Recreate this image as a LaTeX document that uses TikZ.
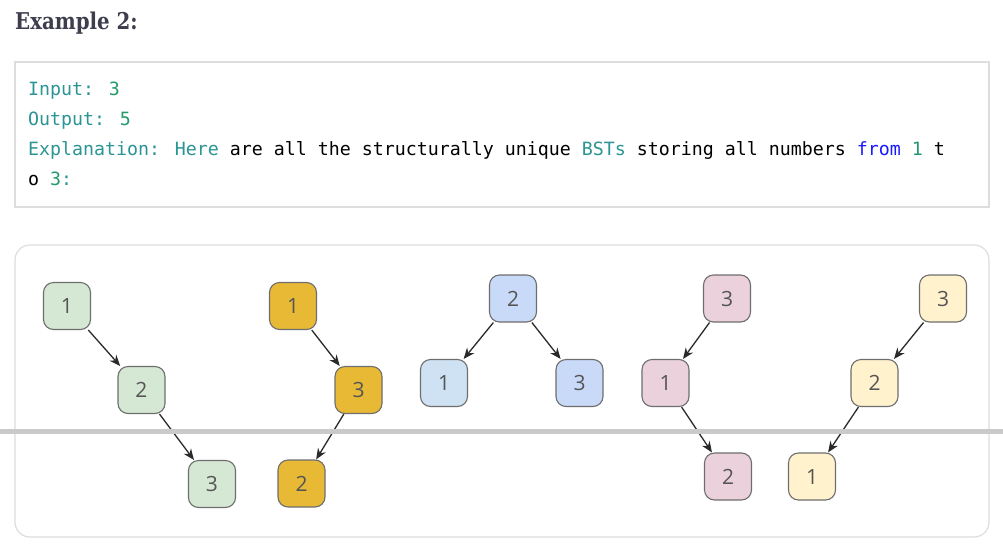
\documentclass[tikz,border=0pt]{standalone}
\usepackage{fontspec}
\usetikzlibrary{arrows.meta}
\newfontfamily\headfont{DejaVu Serif}
\newfontfamily\codefont{DejaVu Sans Mono}
\newfontfamily\numfont{Open Sans}
\definecolor{headcol}{HTML}{3D3D4E}
\definecolor{teal}{HTML}{2B9494}
\definecolor{numcol}{HTML}{259A6C}
\definecolor{kwblue}{HTML}{1A1AFF}
\definecolor{boxline}{HTML}{DDDDDD}
\definecolor{bandgray}{HTML}{CACACA}
\definecolor{nodeline}{HTML}{6E6E6E}
\definecolor{digitgray}{HTML}{555555}
\definecolor{edgecol}{HTML}{2A2A2A}
\definecolor{cgreen}{HTML}{D5E8D4}
\definecolor{cgold}{HTML}{E7B935}
\definecolor{cblueA}{HTML}{CFE2F3}
\definecolor{cblueB}{HTML}{C9DAF8}
\definecolor{cpink}{HTML}{EAD1DC}
\definecolor{cyellow}{HTML}{FFF2CC}
\tikzset{
  bnode/.style={draw=nodeline, line width=1.1pt, rounded corners=10pt,
    minimum width=47pt, minimum height=47pt, inner sep=0pt,
    font=\numfont\fontsize{21pt}{21pt}\selectfont, text=digitgray},
  edge/.style={draw=edgecol, line width=1.3pt, -{Stealth[length=11pt,width=9pt]}},
  codeline/.style={anchor=base west, inner sep=0pt,
    font=\codefont\fontsize{18.27pt}{18.27pt}\selectfont},
}
\begin{document}
\begin{tikzpicture}[x=1pt,y=-1pt]
\useasboundingbox (0,0) rectangle (1003,552);
\fill[white] (0,0) rectangle (1003,552);
% header
\node[anchor=base west, inner sep=0pt, text=headcol, xscale=0.9, yscale=1.05,
  font=\headfont\bfseries\fontsize{22pt}{22pt}\selectfont] (head) at (15,29) {Example 2:};
% code box
\draw[boxline, line width=1.3pt, fill=white] (15,62) rectangle (989,207);
\node[codeline] (l1) at (28,95) {\textcolor{teal}{Input:} \textcolor{numcol}{3}};
\node[codeline] (l2) at (28,125) {\textcolor{teal}{Output:} \textcolor{numcol}{5}};
\node[codeline] (l3) at (28,155) {\textcolor{teal}{Explanation:} \textcolor{teal}{Here} are all the structurally unique \textcolor{teal}{BSTs} storing all numbers \textcolor{kwblue}{from} \textcolor{numcol}{1} t};
\node[codeline] (l4) at (28,185) {o \textcolor{numcol}{3}\textcolor{teal}{:}};
% panel
\draw[boxline, line width=1.2pt, rounded corners=15pt] (15,245) rectangle (989,537);
% tree 1
\node[bnode, fill=cgreen] (a1) at (67,306) {1};
\node[bnode, fill=cgreen] (a2) at (141.5,390) {2};
\node[bnode, fill=cgreen] (a3) at (212,484) {3};
\draw[edge] (a1) -- (a2);
\draw[edge] (a2) -- (a3);
% tree 2
\node[bnode, fill=cgold] (b1) at (293,306) {1};
\node[bnode, fill=cgold] (b3) at (358.5,390) {3};
\node[bnode, fill=cgold] (b2) at (301.5,483.5) {2};
\draw[edge] (b1) -- (b3);
\draw[edge] (b3) -- (b2);
% tree 3
\node[bnode, fill=cblueB] (c2) at (513,298.5) {2};
\node[bnode, fill=cblueA] (c1) at (444,383) {1};
\node[bnode, fill=cblueB] (c3) at (579.5,383) {3};
\draw[edge] (c2) -- (c1);
\draw[edge] (c2) -- (c3);
% tree 4
\node[bnode, fill=cpink] (d3) at (727,298.5) {3};
\node[bnode, fill=cpink] (d1) at (665.5,383) {1};
\node[bnode, fill=cpink] (d2) at (728,476.5) {2};
\draw[edge] (d3) -- (d1);
\draw[edge] (d1) -- (d2);
% tree 5
\node[bnode, fill=cyellow] (e3) at (943,298.5) {3};
\node[bnode, fill=cyellow] (e2) at (874.5,383) {2};
\node[bnode, fill=cyellow] (e1) at (812,476.5) {1};
\draw[edge] (e3) -- (e2);
\draw[edge] (e2) -- (e1);
% gray band
\fill[bandgray] (0,429) rectangle (1003,434);
\end{tikzpicture}
\end{document}
